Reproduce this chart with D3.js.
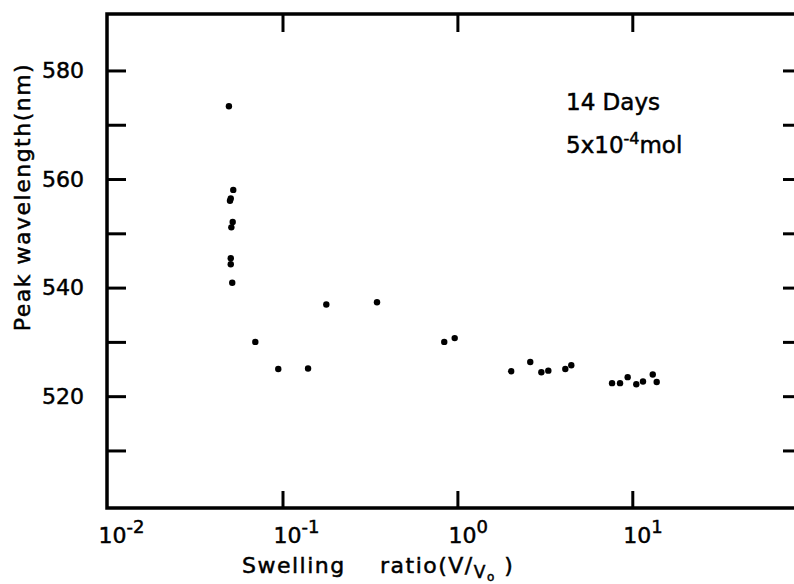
<!DOCTYPE html>
<html lang="en">
<head>
<meta charset="UTF-8">
<title>Peak wavelength vs swelling ratio</title>
<script src="https://cdn.jsdelivr.net/npm/d3@7"></script>
<style>
  body { margin: 0; background: #fff; }
  text { font-family: "DejaVu Sans", sans-serif; fill: #000; stroke: #000; stroke-width: 0.5px; }
</style>
</head>
<body>
<div id="container"></div>
<script>
// swelling ratio V/V0 (log scale) and peak wavelength (nm)
const swelling = [0.0494, 0.0523, 0.0506, 0.0501, 0.0519, 0.0510, 0.0506, 0.0506, 0.0516,
    0.0699, 0.0946, 0.140, 0.178, 0.347, 0.841, 0.965,
    2.03, 2.61, 3.02, 3.31, 4.14, 4.48,
    7.66, 8.51, 9.41, 10.54, 11.51, 13.09, 13.79];
const wavelength = [573.4, 558.0, 556.4, 556.0, 552.1, 551.1, 545.4, 544.3, 540.9,
    530.0, 525.0, 525.1, 536.9, 537.3, 530.0, 530.7,
    524.6, 526.3, 524.4, 524.7, 525.0, 525.7,
    522.4, 522.4, 523.5, 522.2, 522.7, 524.0, 522.6];

const xTicks = [0.1, 1, 10];
const xLabels = [{v: 0.01, e: "-2"}, {v: 0.1, e: "-1"}, {v: 1, e: "0"}, {v: 10, e: "1"}];
const yTicks = [510, 520, 530, 540, 550, 560, 570, 580];
const yLabels = [520, 540, 560, 580];

const width = 794, height = 584;
const mLeft = 107, mRight = 800, mTop = 14, mBottom = 508;

const x = d3.scaleLog().domain([0.01, 100]).range([107.6, 807.2]);
const y = d3.scaleLinear().domain([499.4, 590.4]).range([mBottom, mTop]);

const svg = d3.select("#container").append("svg")
    .attr("width", width)
    .attr("height", height);

function styleAxis(g) {
    g.selectAll(".tick line").attr("stroke-width", 3).attr("stroke", "#000");
    g.selectAll(".tick text").attr("font-size", 22).attr("font-family", "DejaVu Sans");
}

// frame lines
svg.append("path")
    .attr("d", `M${mLeft},${mTop}H${mRight}V${mBottom}H${mLeft}Z`)
    .attr("fill", "none").attr("stroke", "#000").attr("stroke-width", 3.5);

// bottom axis (inward ticks)
svg.append("g")
    .attr("transform", `translate(0,${mBottom})`)
    .call(d3.axisBottom(x).tickValues(xTicks).tickSizeInner(-17).tickSizeOuter(0).tickFormat(""))
    .call(g => g.select(".domain").remove())
    .call(styleAxis);

// top axis
svg.append("g")
    .attr("transform", `translate(0,${mTop})`)
    .call(d3.axisTop(x).tickValues(xTicks).tickSizeInner(-18).tickSizeOuter(0).tickFormat(""))
    .call(g => g.select(".domain").remove())
    .call(styleAxis);

// left axis
svg.append("g")
    .attr("transform", `translate(${mLeft},0)`)
    .call(d3.axisLeft(y).tickValues(yTicks).tickSizeInner(-19).tickSizeOuter(0).tickPadding(23)
        .tickFormat(d => yLabels.includes(d) ? d : ""))
    .call(g => g.select(".domain").remove())
    .call(styleAxis);

// right axis (its line sits just past the picture edge)
svg.append("g")
    .attr("transform", `translate(${mRight},0)`)
    .call(d3.axisRight(y).tickValues(yTicks).tickSizeInner(-17).tickSizeOuter(0).tickFormat(""))
    .call(g => g.select(".domain").remove())
    .call(styleAxis);

// x tick labels as powers of ten
const xl = svg.append("g").selectAll("text")
    .data(xLabels)
    .join("text")
    .attr("x", d => x(d.v) - 9)
    .attr("y", 543)
    .attr("font-size", 22);
xl.append("tspan").text("10");
xl.append("tspan").attr("dy", -10).attr("font-size", 18).text(d => d.e);

// axis titles
const xt = svg.append("text")
    .attr("x", 242)
    .attr("y", 573)
    .attr("font-size", 22)
    .attr("letter-spacing", 1.5);
xt.append("tspan").text("Swelling");
xt.append("tspan").attr("x", 380).text("ratio(V/");
xt.append("tspan").attr("dy", 5).attr("font-size", 17).text("V");
xt.append("tspan").attr("dy", 3).attr("font-size", 12).text("o");
xt.append("tspan").attr("dy", -8).text(" )");

svg.append("text")
    .attr("transform", "translate(30,197) rotate(-90)")
    .attr("text-anchor", "middle")
    .attr("font-size", 22)
    .attr("letter-spacing", 1.5)
    .text("Peak  wavelength(nm)");

// annotation
svg.append("text")
    .attr("x", 566).attr("y", 110)
    .attr("font-size", 23)
    .text("14 Days");
const ann = svg.append("text")
    .attr("x", 566).attr("y", 153)
    .attr("font-size", 23);
ann.append("tspan").text("5x10");
ann.append("tspan").attr("dy", -9).attr("font-size", 16).text("-4");
ann.append("tspan").attr("dy", 9).text("mol");

// data points
svg.append("g")
    .selectAll("circle")
    .data(swelling.map((s, i) => ({s, w: wavelength[i]})))
    .join("circle")
    .attr("cx", d => x(d.s))
    .attr("cy", d => y(d.w))
    .attr("r", 3.2)
    .attr("fill", "#000");
</script>
</body>
</html>
